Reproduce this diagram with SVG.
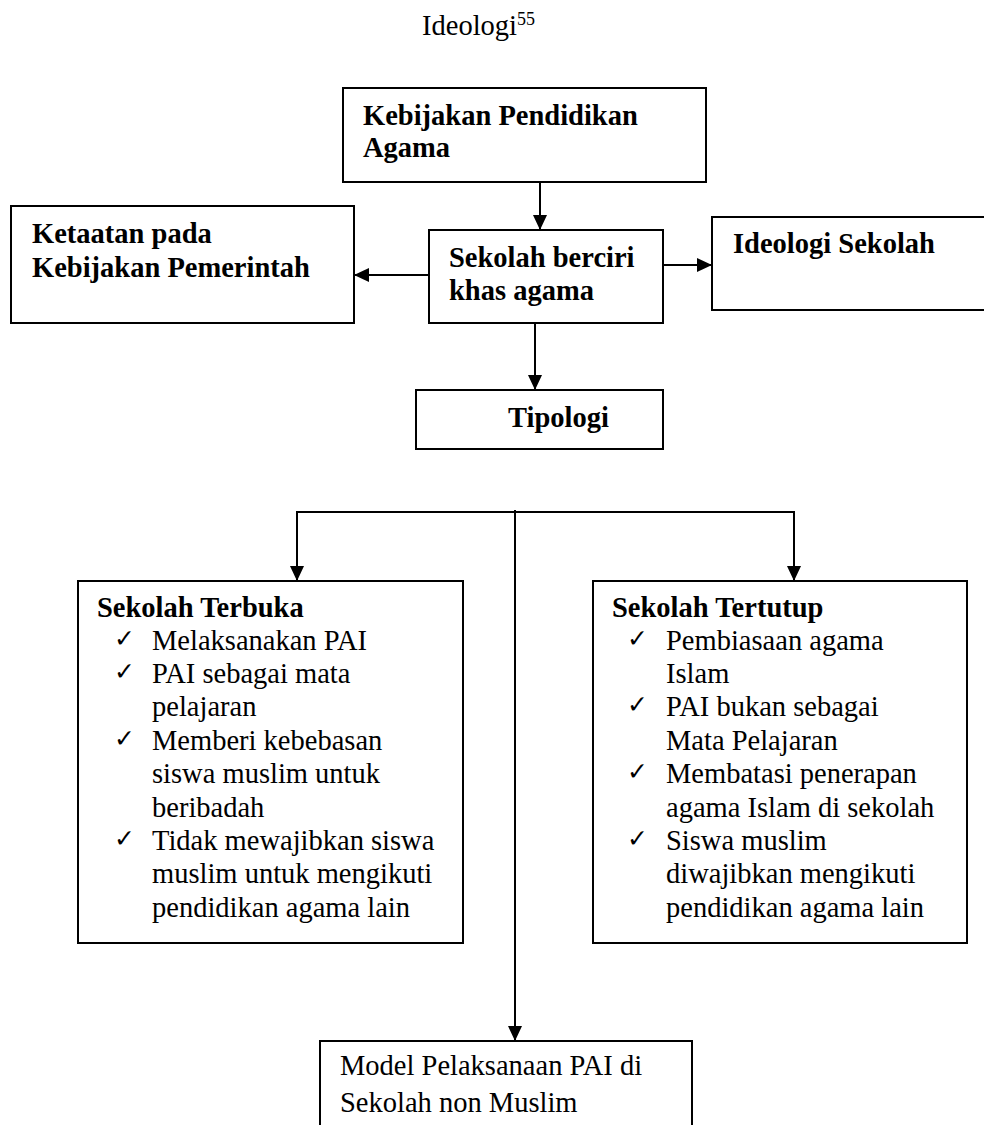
<svg xmlns="http://www.w3.org/2000/svg" width="984" height="1125" viewBox="0 0 984 1125">
<style>
  .box { fill: #ffffff; stroke: #000000; stroke-width: 2; }
  .t { font-family: "Liberation Serif", "Times New Roman", serif; font-size: 28.5px; fill: #000000; }
  .b { font-weight: bold; }
  .ck { font-family: "DejaVu Sans", sans-serif; font-size: 25px; fill: #000000; }
  .conn { fill: none; stroke: #000000; stroke-width: 2; }
</style>
<defs>
  <marker id="arr" markerUnits="userSpaceOnUse" markerWidth="16" markerHeight="14" refX="15" refY="7" orient="auto">
    <path d="M0,0 L15,7 L0,14 Z" fill="#000000"/>
  </marker>
</defs>
<rect width="984" height="1125" fill="#ffffff"/>

<g id="title">
  <text class="t" x="422" y="35">Ideologi<tspan font-size="18" dy="-10">55</tspan></text>
</g>

<g id="connectors">
  <line class="conn" x1="540" y1="182" x2="540" y2="230" marker-end="url(#arr)"/>
  <line class="conn" x1="429" y1="275" x2="354" y2="275" marker-end="url(#arr)"/>
  <line class="conn" x1="663" y1="265" x2="712" y2="265" marker-end="url(#arr)"/>
  <line class="conn" x1="535" y1="323" x2="535" y2="390" marker-end="url(#arr)"/>
  <polyline class="conn" points="297,581 297,512 794,512 794,581"/>
  <line class="conn" x1="297" y1="560" x2="297" y2="581" marker-end="url(#arr)"/>
  <line class="conn" x1="794" y1="560" x2="794" y2="581" marker-end="url(#arr)"/>
  <line class="conn" x1="515" y1="510" x2="515" y2="1041" marker-end="url(#arr)"/>
</g>

<g id="kebijakan">
  <rect class="box" x="343" y="88" width="363" height="94"/>
  <text class="t b" x="363" y="125">Kebijakan Pendidikan</text>
  <text class="t b" x="363" y="157">Agama</text>
</g>

<g id="ketaatan">
  <rect class="box" x="11" y="206" width="343" height="117"/>
  <text class="t b" x="32" y="243">Ketaatan pada</text>
  <text class="t b" x="32" y="277">Kebijakan Pemerintah</text>
</g>

<g id="sekolah-berciri">
  <rect class="box" x="429" y="230" width="234" height="93"/>
  <text class="t b" x="449" y="267">Sekolah berciri</text>
  <text class="t b" x="449" y="300">khas agama</text>
</g>

<g id="ideologi-sekolah">
  <rect class="box" x="712" y="217" width="280" height="93"/>
  <text class="t b" x="733" y="253">Ideologi Sekolah</text>
</g>

<g id="tipologi">
  <rect class="box" x="416" y="390" width="247" height="59"/>
  <text class="t b" x="508" y="427">Tipologi</text>
</g>

<g id="sekolah-terbuka">
  <rect class="box" x="78" y="581" width="385" height="362"/>
  <text class="t b" x="97" y="617">Sekolah Terbuka</text>
  <text class="ck" x="114" y="647">✓</text>
  <text class="t" x="152" y="650">Melaksanakan PAI</text>
  <text class="ck" x="114" y="680">✓</text>
  <text class="t" x="152" y="683">PAI sebagai mata</text>
  <text class="t" x="152" y="716">pelajaran</text>
  <text class="ck" x="114" y="747">✓</text>
  <text class="t" x="152" y="750">Memberi kebebasan</text>
  <text class="t" x="152" y="783">siswa muslim untuk</text>
  <text class="t" x="152" y="817">beribadah</text>
  <text class="ck" x="114" y="847">✓</text>
  <text class="t" x="152" y="850">Tidak mewajibkan siswa</text>
  <text class="t" x="152" y="883">muslim untuk mengikuti</text>
  <text class="t" x="152" y="917">pendidikan agama lain</text>
</g>

<g id="sekolah-tertutup">
  <rect class="box" x="593" y="581" width="374" height="362"/>
  <text class="t b" x="612" y="617">Sekolah Tertutup</text>
  <text class="ck" x="627" y="647">✓</text>
  <text class="t" x="666" y="650">Pembiasaan agama</text>
  <text class="t" x="666" y="683">Islam</text>
  <text class="ck" x="627" y="713">✓</text>
  <text class="t" x="666" y="716">PAI bukan sebagai</text>
  <text class="t" x="666" y="750">Mata Pelajaran</text>
  <text class="ck" x="627" y="780">✓</text>
  <text class="t" x="666" y="783">Membatasi penerapan</text>
  <text class="t" x="666" y="817">agama Islam di sekolah</text>
  <text class="ck" x="627" y="847">✓</text>
  <text class="t" x="666" y="850">Siswa muslim</text>
  <text class="t" x="666" y="883">diwajibkan mengikuti</text>
  <text class="t" x="666" y="917">pendidikan agama lain</text>
</g>

<g id="model">
  <rect class="box" x="320" y="1041" width="372" height="100"/>
  <text class="t" x="340" y="1075">Model Pelaksanaan PAI di</text>
  <text class="t" x="340" y="1112">Sekolah non Muslim</text>
</g>
</svg>
